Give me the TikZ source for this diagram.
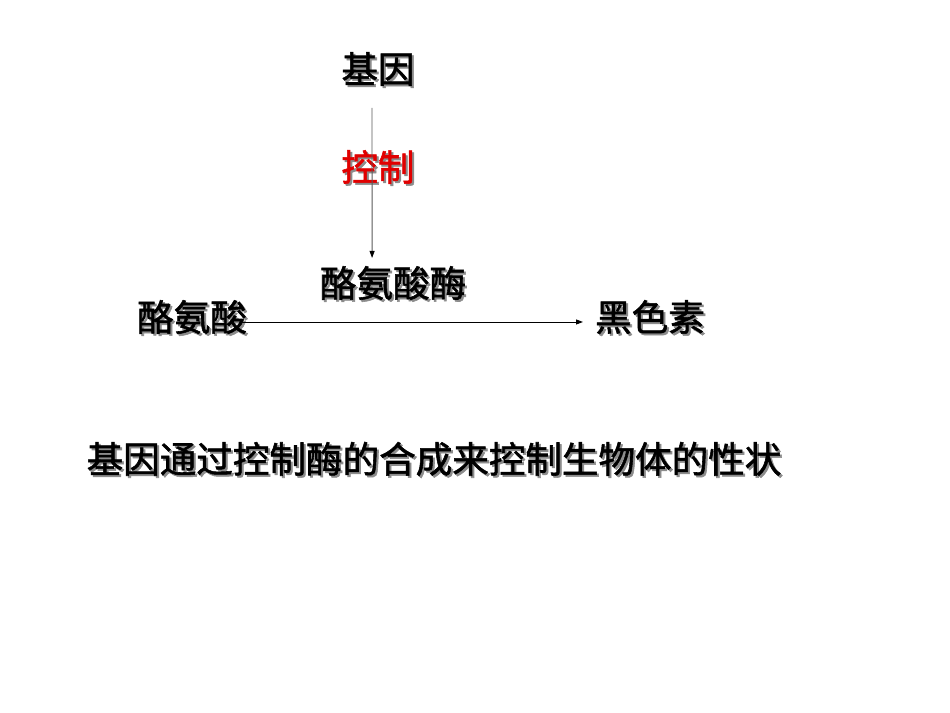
\documentclass[tikz,border=0pt]{standalone}
\usepackage{fontspec}
\newfontfamily\cjk{Noto Sans CJK SC}[FakeBold=1.5]
\usetikzlibrary{arrows.meta}
\definecolor{ctrlred}{RGB}{225,0,0}
\newcommand{\shd}[1]{\makebox[0pt][l]{\hspace{2bp}\raisebox{-2bp}{\color{black!45}#1}}#1}
\tikzset{
  lbl/.style={inner sep=0pt, font=\cjk\fontsize{36.7}{40}\selectfont},
  arr/.style={-{Triangle[width=5bp,length=7bp,color=black]}, line width=0.9bp},
}

\begin{document}
\begin{tikzpicture}[x=1bp,y=-1bp]
  \useasboundingbox (0,0) rectangle (950,713);
  \node[lbl] (gene) at (378,70) {\shd{基因}};
  \node[lbl,text=ctrlred] (ctrl) at (378,168) {\shd{控制}};
  \node[lbl] (enz) at (393,284) {\shd{酪氨酸酶}};
  \node[lbl] (tyr) at (192,318) {\shd{酪氨酸}};
  \node[lbl] (mel) at (650,318) {\shd{黑色素}};
  \node[lbl] (note) at (434,460) {\shd{基因通过控制酶的合成来控制生物体的性状}};
  \draw[arr,draw=black!65] ([xshift=-6,yshift=-20]gene.south) -- ([xshift=-21,yshift=8]enz.north);
  \draw[arr] ([xshift=-6,yshift=-4]tyr.east) -- ([xshift=-12,yshift=-4]mel.west);
\end{tikzpicture}
\end{document}
